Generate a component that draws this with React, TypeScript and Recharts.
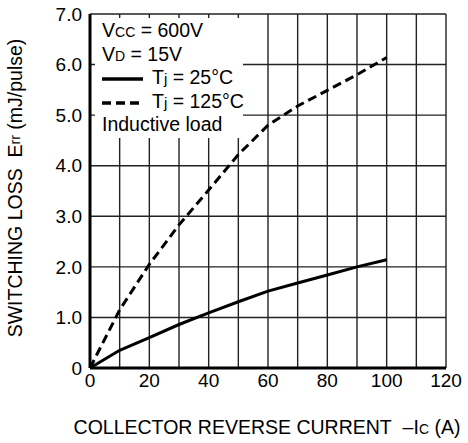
import { LineChart, Line, XAxis, YAxis, CartesianGrid, Label } from 'recharts';

const current = [0, 10, 20, 30, 40, 50, 60, 70, 80, 90, 100];
const loss25 = [0, 0.35, 0.6, 0.86, 1.09, 1.31, 1.52, 1.68, 1.84, 2.0, 2.14];
const loss125 = [0, 1.15, 2.05, 2.83, 3.52, 4.22, 4.8, 5.18, 5.49, 5.8, 6.14];

const xTicks = [0, 10, 20, 30, 40, 50, 60, 70, 80, 90, 100, 110, 120];
const yTicks = [0, 1, 2, 3, 4, 5, 6, 7];

const FONT = '"Liberation Sans", Arial, Helvetica, sans-serif';

const data = current.map((c, i) => ({ current: c, t25: loss25[i], t125: loss125[i] }));

const YTitle = () => {
  const cx = 15;
  const cy = 188;
  return (
    <text
      x={cx}
      y={cy}
      transform={`rotate(-90 ${cx} ${cy})`}
      textAnchor="middle"
      dominantBaseline="central"
      fontFamily={FONT}
      fontSize={19.5}
      fill="#000"
    >
      SWITCHING LOSS{'\u00a0\u00a0'}E<tspan fontSize={14}>rr</tspan> (mJ/pulse)
    </text>
  );
};

const XTitle = () => (
  <text x={267} y={434} textAnchor="middle" fontFamily={FONT} fontSize={19.5} fill="#000">
    COLLECTOR REVERSE CURRENT{'\u00a0\u00a0'}–I<tspan fontSize={14}>C</tspan> (A)
  </text>
);

const Sample = ({ dashed }: { dashed?: boolean }) => (
  <svg width={41} height={8} style={{ marginRight: 9, verticalAlign: 'middle' }}>
    <line x1={0} y1={4} x2={41} y2={4} stroke="#000" strokeWidth={3.5} strokeDasharray={dashed ? '9 5' : undefined} />
  </svg>
);

const row = { height: 23.6, lineHeight: '24px', overflow: 'visible' as const };

export default function App() {
  return (
    <div style={{ position: 'absolute', left: 0, top: 0, width: 468, height: 443, background: '#fff' }}>
      <LineChart width={468} height={443} data={data} margin={{ top: 14, right: 22, bottom: 0, left: 0 }}>
        <CartesianGrid stroke="#222" strokeWidth={1.4} horizontal vertical />
        <XAxis
          dataKey="current"
          type="number"
          domain={[0, 120]}
          ticks={xTicks}
          interval={0}
          height={75}
          tickLine={false}
          tickMargin={0}
          tickFormatter={(v: number) => (v % 20 === 0 ? String(v) : '')}
          tick={{ fill: '#000', fontSize: 19, fontFamily: FONT }}
          axisLine={{ stroke: '#000', strokeWidth: 3 }}
        >
          <Label content={<XTitle />} />
        </XAxis>
        <XAxis
          xAxisId="top"
          orientation="top"
          dataKey="current"
          type="number"
          domain={[0, 120]}
          height={0}
          tick={false}
          tickLine={false}
          axisLine={{ stroke: '#000', strokeWidth: 3 }}
        />
        <YAxis
          type="number"
          domain={[0, 7]}
          ticks={yTicks}
          interval={0}
          width={90}
          tickLine={false}
          tickMargin={2}
          tickFormatter={(v: number) => (v === 0 ? '0' : v.toFixed(1))}
          tick={{ fill: '#000', fontSize: 19, fontFamily: FONT }}
          axisLine={{ stroke: '#000', strokeWidth: 3 }}
        >
          <Label content={<YTitle />} />
        </YAxis>
        <YAxis
          yAxisId="right"
          orientation="right"
          type="number"
          domain={[0, 7]}
          width={0}
          tick={false}
          tickLine={false}
          axisLine={{ stroke: '#000', strokeWidth: 3 }}
        />
        <Line
          type="linear"
          dataKey="t25"
          name="Tj = 25°C"
          stroke="#000"
          strokeWidth={3}
          dot={false}
          isAnimationActive={false}
        />
        <Line
          type="linear"
          dataKey="t125"
          name="Tj = 125°C"
          stroke="#000"
          strokeWidth={3}
          strokeDasharray="9 5"
          dot={false}
          isAnimationActive={false}
        />
      </LineChart>
      <div
        style={{
          position: 'absolute',
          left: 95,
          top: 18,
          width: 148,
          height: 120,
          background: '#fff',
          paddingLeft: 7,
          boxSizing: 'border-box',
          fontFamily: FONT,
          fontSize: 19.5,
          color: '#000',
          whiteSpace: 'nowrap',
        }}
      >
        <div style={row}>V<span style={{ fontSize: 14 }}>CC</span> = 600V</div>
        <div style={row}>V<span style={{ fontSize: 14 }}>D</span> = 15V</div>
        <div style={row}><Sample />T<span style={{ fontSize: 15 }}>j</span> = 25°C</div>
        <div style={row}><Sample dashed />T<span style={{ fontSize: 15 }}>j</span> = 125°C</div>
        <div style={row}>Inductive load</div>
      </div>
    </div>
  );
}
